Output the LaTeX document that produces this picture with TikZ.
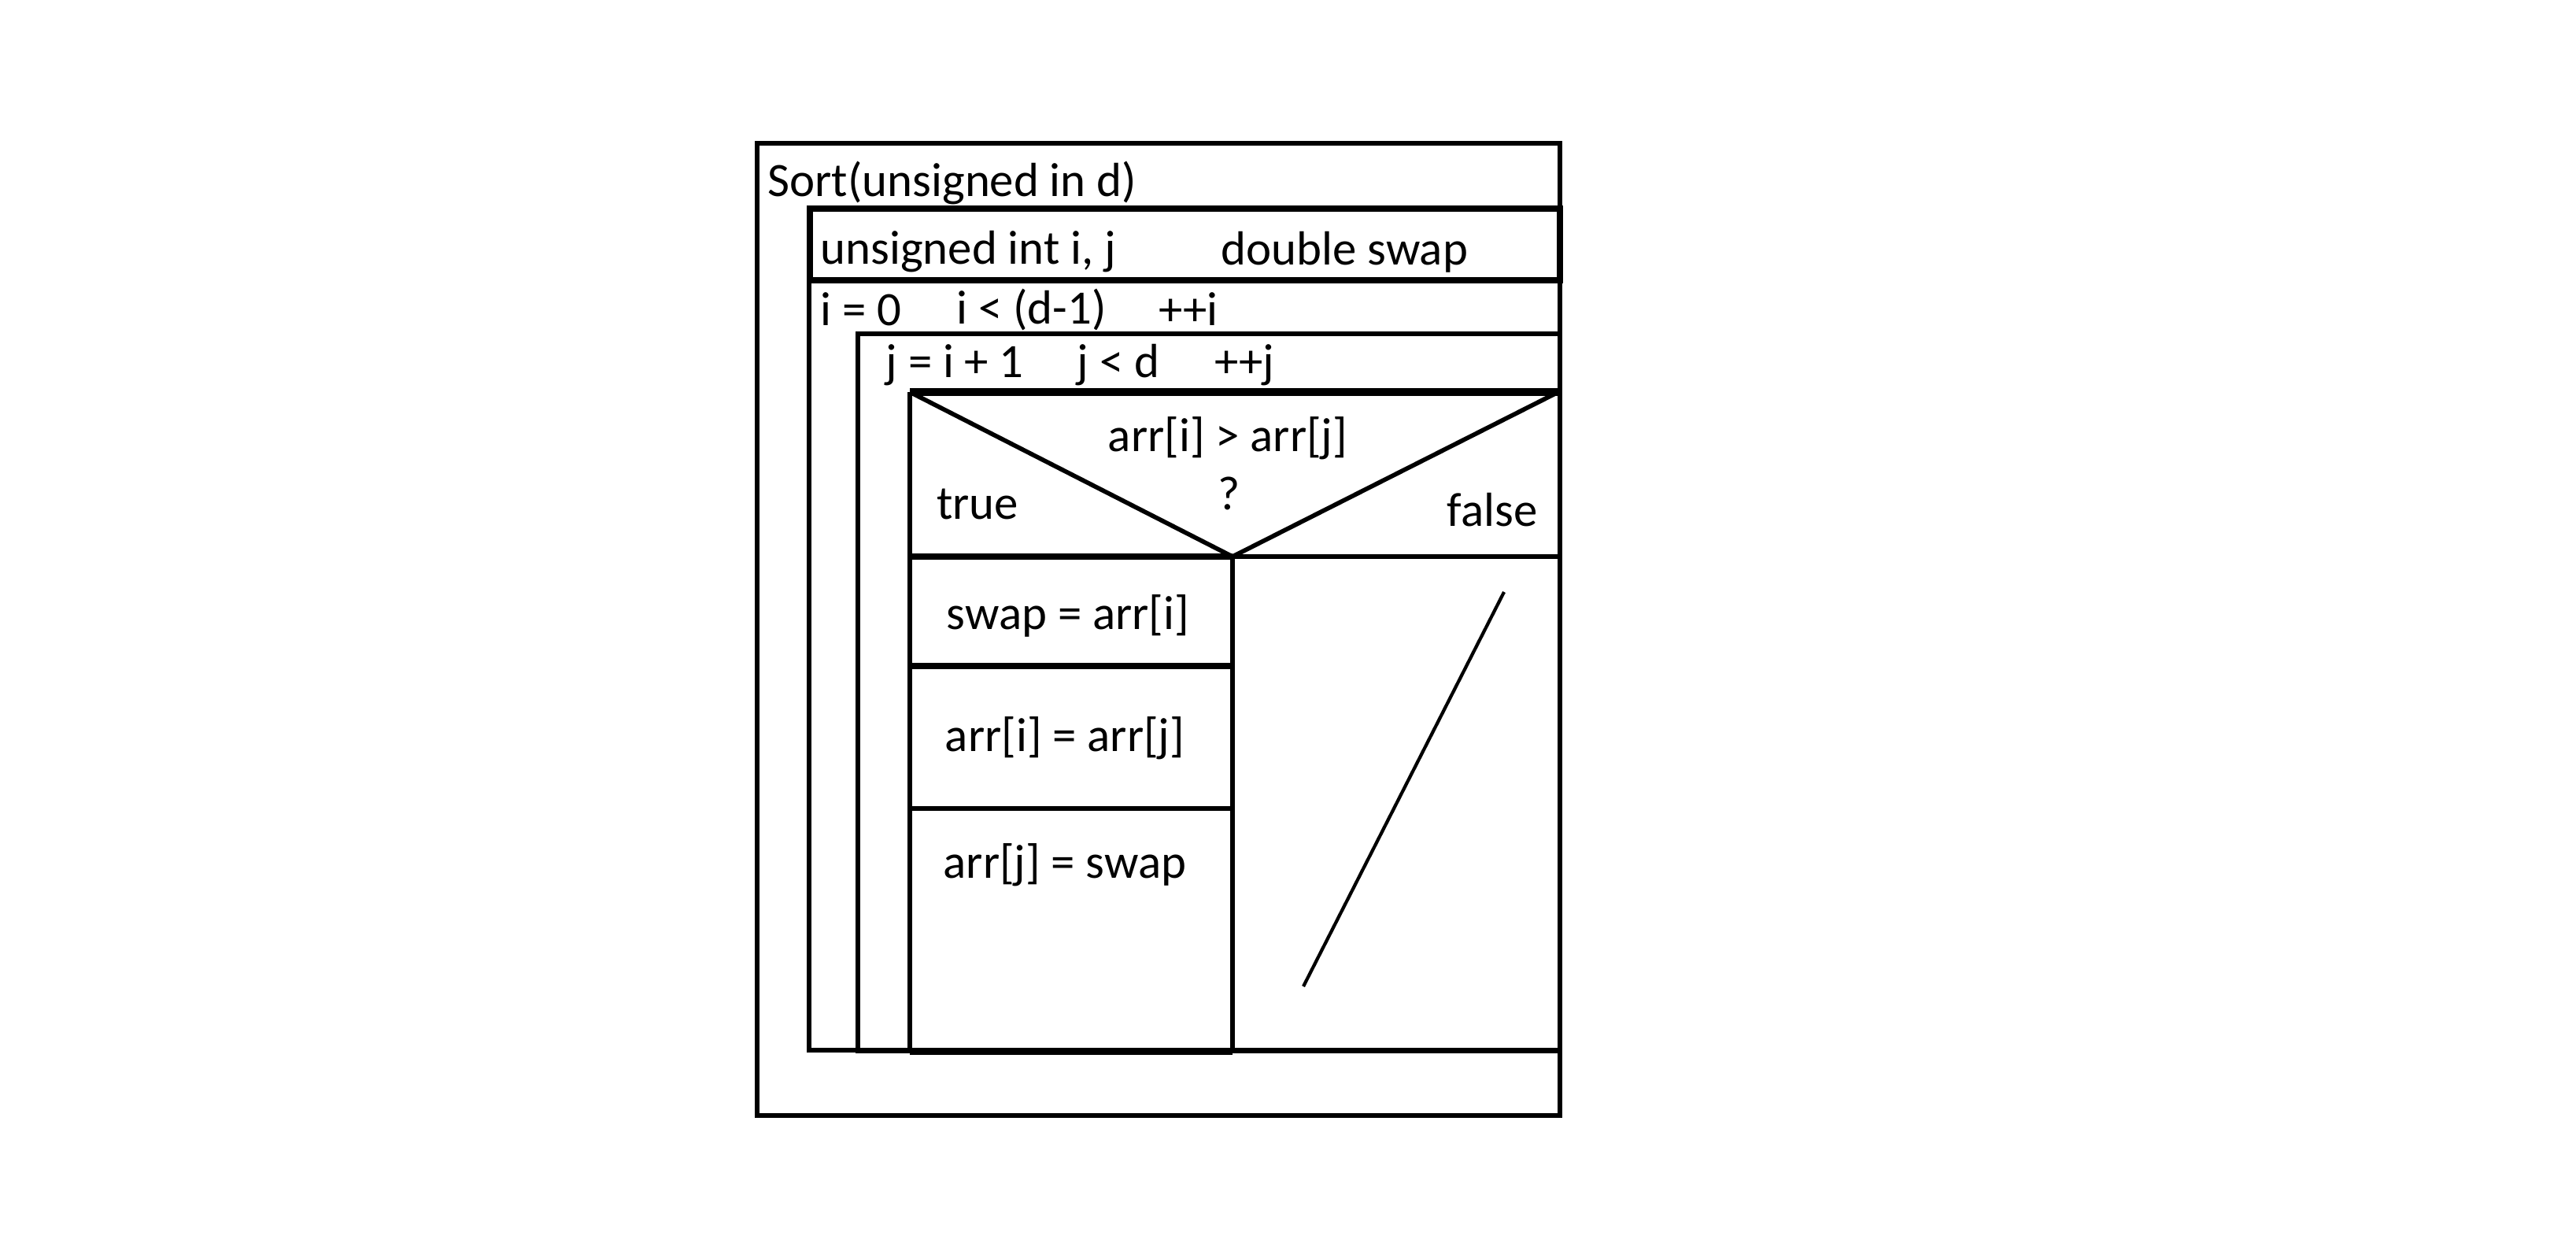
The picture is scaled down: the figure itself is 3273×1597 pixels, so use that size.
\documentclass[tikz,border=0pt]{standalone}
\usepackage{fontspec}
\setmainfont{Carlito}
\usetikzlibrary{calc}

\tikzset{
	nsline/.style={line width=1.6pt},
	nsthick/.style={line width=2.2pt},
	nsbold/.style={line width=3pt},
	nstext/.style={inner sep=0pt, font=\fontsize{17.3}{20}\selectfont}
}

\begin{document}
\begin{tikzpicture}[x=0.01cm, y=-0.01cm]
				\useasboundingbox (0, 0) rectangle (3273, 1597);
				
				% outer frame
				\coordinate (F1) at (962, 182);
				\coordinate (F2) at (1982, 1417);
				\draw[nsline] (F1) rectangle (F2);
				\node[nstext, anchor=west] (title) at (975, 232) {Sort(unsigned in d)};
				
				% declarations
				\coordinate (D1) at (1029, 265);
				\coordinate (D2) at (1982, 356);
				\draw[nsthick] (D1) rectangle (D2);
				\node[nstext, anchor=west] (decli) at (1042, 320) {unsigned int i, j};
				\node[nstext, anchor=west] (declswap) at (1551, 320) {double swap};
				
				% outer loop
				\coordinate (I1) at (1028, 356);
				\coordinate (I2) at (1028, 1334);
				\coordinate (I3) at (1982, 1334);
				\draw[nsline] (I1) -- (I2) -- (I3);
				\node[nstext, anchor=west] (iinit) at (1042, 393) {i = 0};
				\node[nstext, anchor=west] (icond) at (1215, 393) {i < (d-1)};
				\node[nstext, anchor=west] (istep) at (1472, 393) {++i};
				
				% inner loop
				\coordinate (J1) at (1982, 424);
				\coordinate (J2) at (1090, 424);
				\coordinate (J3) at (1090, 1335);
				\draw[nsline] (J1) -- (J2) -- (J3) -- (1982, 1335);
				\node[nstext, anchor=west] (jinit) at (1125, 464) {j = i + 1};
				\node[nstext, anchor=west] (jcond) at (1368, 464) {j < d};
				\node[nstext, anchor=west] (jstep) at (1543, 464) {++j};
				
				% condition
				\coordinate (A) at (1156, 498);
				\coordinate (B) at (1980, 498);
				\coordinate (M) at (1566, 707);
				\coordinate (L) at (1156, 707);
				\coordinate (R) at (1980, 707);
				\draw[nsbold] (A) -- (B);
				\draw[nsline] (A) -- (1156, 1336);
				\draw[nsline] (A) -- (M) -- (B);
				\draw[nsthick] (L) -- (M);
				\draw[nsline] (M) -- (R);
				\draw[nsline] (M) -- (1566, 1336);
				\node[nstext] (cond) at (1560, 557) {arr[i] > arr[j]};
				\node[nstext] (ask) at (1562, 627) {?};
				\node[nstext] (yes) at (1242, 640) {true};
				\node[nstext] (no) at (1896, 648) {false};
				
				% true branch
				\draw[nsthick] (1156, 846) -- (1566, 846);
				\draw[nsline] (1156, 1027) -- (1566, 1027);
				\draw[nsthick] (1156, 1336) -- (1566, 1336);
				\node[nstext] (stepa) at (1357, 782) {swap = arr[i]};
				\node[nstext] (stepb) at (1353, 938) {arr[i] = arr[j]};
				\node[nstext] (stepc) at (1353, 1099) {arr[j] = swap};
				
				% false branch
				\coordinate (E1) at (1911, 752);
				\coordinate (E2) at (1656, 1253);
				\draw[line width=1.2pt] (E1) -- (E2);
				\end{tikzpicture}
\end{document}
